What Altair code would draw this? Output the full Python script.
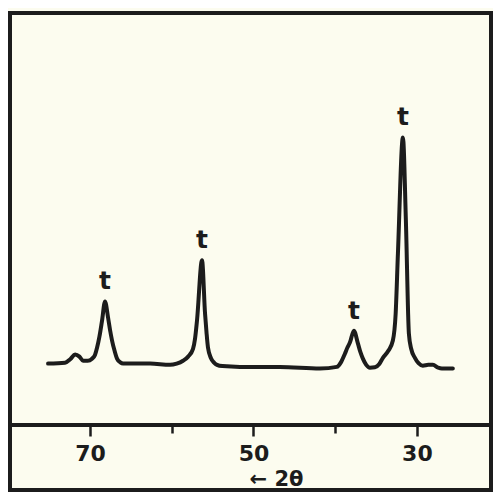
import altair as alt
import pandas as pd

# diffraction trace (2-theta in degrees, relative intensity)
two_theta = [75.14, 73.06, 72.40, 71.83, 71.30, 70.86, 70.30, 69.76, 69.40, 69.14,
             68.85, 68.53, 68.17, 67.80, 67.55, 67.31, 67.00, 66.70, 66.30, 65.96,
             62.66, 60.21, 59.40, 58.62, 58.00, 57.40, 57.15, 56.91, 56.30, 55.93,
             55.75, 55.57, 55.20, 54.80, 54.46, 53.80, 51.65, 46.76, 41.87, 39.79,
             39.30, 38.81, 38.50, 38.20, 37.71, 37.22, 36.90, 36.61, 36.20, 35.75,
             35.14, 34.60, 34.16, 33.50, 32.94, 32.60, 32.32, 31.71, 31.35, 30.98,
             30.70, 30.24, 29.80, 29.27, 28.60, 28.04, 27.40, 26.94, 25.60]
intensity = [14.9, 15.1, 16.0, 17.1, 16.6, 15.6, 15.6, 16.1, 17.0, 18.8,
             21.5, 25.4, 30.0, 26.1, 23.0, 20.5, 18.0, 16.1, 15.2, 14.9,
             14.9, 14.6, 14.9, 15.6, 16.6, 18.5, 21.0, 25.4, 40.0, 27.1,
             22.5, 18.8, 16.2, 15.1, 14.6, 14.3, 14.1, 14.1, 13.7, 14.1,
             15.2, 17.3, 18.8, 20.0, 22.9, 19.8, 17.6, 16.1, 14.6, 13.9,
             14.0, 14.8, 16.3, 18.0, 20.5, 27.0, 41.7, 69.8, 49.8, 22.2,
             18.5, 16.3, 15.0, 14.4, 14.6, 14.6, 13.9, 13.7, 13.7]

# peak labels
peak_theta = [68.17, 56.30, 37.71, 31.71]
peak_int = [30.0, 40.0, 22.9, 69.8]
peak_text = ["t", "t", "t", "t"]

tick_values = [30, 40, 50, 60, 70]
labelled_ticks = [30, 50, 70]

INK = "#1c1c1c"
PAPER = "#fcfcef"
W, H, EXTRA = 481, 412, 65

trace = pd.DataFrame({"theta": two_theta, "I": intensity})
peaks = pd.DataFrame({"theta": peak_theta, "I": peak_int, "lab": peak_text})
one = pd.DataFrame({"a": [0]})

xscale = alt.Scale(domain=[20.93, 79.8], reverse=True, nice=False, zero=False)
yscale = alt.Scale(domain=[0, 100], nice=False, zero=False)

is_major = "indexof([" + ",".join(str(v) for v in labelled_ticks) + "], datum.value) >= 0"
label_expr = is_major + " ? datum.label : ''"

line = alt.Chart(trace).mark_line(
    color=INK, strokeWidth=4, strokeJoin="round", strokeCap="round", interpolate="monotone"
).encode(
    x=alt.X("theta:Q", scale=xscale,
            axis=alt.Axis(values=tick_values, labelExpr=label_expr, grid=False, domain=False,
                          tickSize={"condition": {"test": is_major, "value": 11}, "value": 8},
                          tickWidth=2.5, tickColor=INK,
                          labelFont="DejaVu Sans", labelFontWeight="bold", labelFontSize=22,
                          labelColor=INK, labelPadding=7,
                          title="\u2190   2\u03b8", titleFont="DejaVu Sans", titleFontWeight="bold",
                          titleFontSize=21, titleColor=INK, titleX=266, titleY=43,
                          titleBaseline="top", titleAlign="center")),
    y=alt.Y("I:Q", scale=yscale, axis=None),
)

labels = alt.Chart(peaks).mark_text(
    font="DejaVu Sans", fontWeight="bold", fontSize=25, color=INK,
    baseline="alphabetic", dy=-12
).encode(
    x=alt.X("theta:Q", scale=xscale),
    y=alt.Y("I:Q", scale=yscale),
    text="lab:N",
)

frame_left = alt.Chart(one).mark_rule(color=INK, strokeWidth=4, strokeCap="square").encode(
    x=alt.value(0), y=alt.value(H), y2=alt.value(H + EXTRA))
frame_right = alt.Chart(one).mark_rule(color=INK, strokeWidth=4, strokeCap="square").encode(
    x=alt.value(W), y=alt.value(H), y2=alt.value(H + EXTRA))
frame_bottom = alt.Chart(one).mark_rule(color=INK, strokeWidth=4, strokeCap="square").encode(
    x=alt.value(0), x2=alt.value(W), y=alt.value(H + EXTRA))

chart = alt.layer(line, labels, frame_left, frame_right, frame_bottom).properties(
    width=W, height=H, background=PAPER,
    autosize=alt.AutoSizeParams(type="none"),
    padding={"left": 2, "top": 5, "right": 2, "bottom": 67},
).configure_view(stroke=INK, strokeWidth=4)

chart.save("out.html", embed_options={"renderer": "svg", "actions": False})
